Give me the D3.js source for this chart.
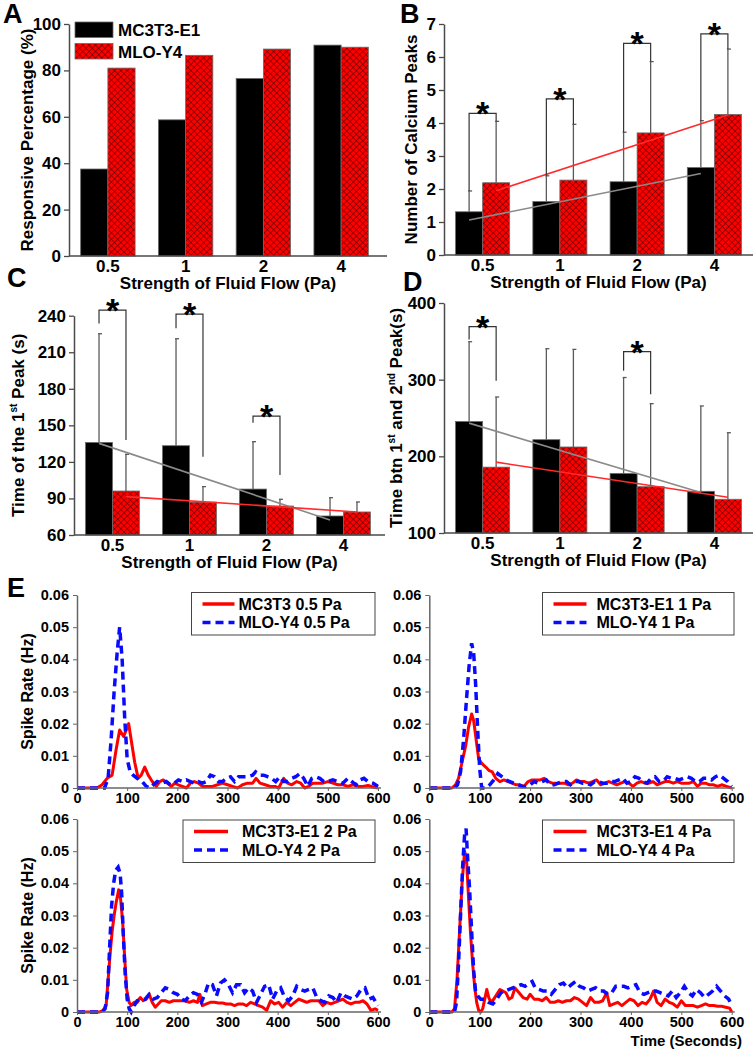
<!DOCTYPE html>
<html><head><meta charset="utf-8">
<script src="https://cdn.jsdelivr.net/npm/d3@7"></script>
<style>
body{margin:0;background:#fff;}
text{font-family:"Liberation Sans",Arial,sans-serif;font-weight:bold;fill:#000;}
</style></head>
<body>
<script>
// ---------- DATA ----------
const flows = ["0.5","1","2","4"];
const cellLines = ["MC3T3-E1","MLO-Y4"];

// Panel A: responsive percentage (%)
const respMC3T3 = [37.5, 58.7, 76.5, 90.9];
const respMLO   = [81.0, 86.5, 89.2, 90.0];
const ticksA = [0,20,40,60,80,100];

// Panel B: number of calcium peaks
const peaksMC3T3 = [1.31, 1.62, 2.22, 2.65];
const peaksMLO   = [2.19, 2.27, 3.70, 4.26];
const peaksErrTopMC3T3 = [1.94, 2.40, 3.72, 4.07];
const peaksErrTopMLO   = [4.05, 3.96, 5.86, 6.24];
const peaksTrendMC3T3 = [1.06, 2.47];
const peaksTrendMLO   = [1.95, 4.24];
const peaksSig = [ {g:0, top:4.29, l:1.94, r:4.05}, {g:1, top:4.73, l:2.40, r:3.96},
                   {g:2, top:6.41, l:3.72, r:5.86}, {g:3, top:6.70, l:4.07, r:6.24} ];
const ticksB = [0,1,2,3,4,5,6,7];

// Panel C: time of the 1st peak (s)
const firstMC3T3 = [136.0, 133.3, 97.7, 75.6];
const firstMLO   = [96.1, 87.0, 83.8, 78.9];
const firstErrTopMC3T3 = [225.2, 221.1, 136.6, 90.6];
const firstErrTopMLO   = [126.2, 99.7, 89.3, 87.1];
const firstTrendMC3T3 = [135.2, 72.3];
const firstTrendMLO   = [91.5, 78.9];
const firstSig = [ {g:0, top:244.6, l:233.7, r:138.0}, {g:1, top:241.3, l:229.6, r:124.3},
                   {g:2, top:157.6, l:152.2, r:109.2} ];
const ticksC = [60,90,120,150,180,210,240];

// Panel D: time between 1st and 2nd peak (s)
const gapMC3T3 = [245.4, 221.7, 177.7, 154.4];
const gapMLO   = [185.9, 212.2, 160.4, 144.0];
const gapErrTopMC3T3 = [349.5, 340.4, 302.8, 265.7];
const gapErrTopMLO   = [277.4, 339.5, 268.7, 230.8];
const gapTrendMC3T3 = [243.3, 152.7];
const gapTrendMLO   = [192.4, 146.6];
const gapSig = [ {g:0, top:369.3, l:352.5, r:298.5}, {g:2, top:336.5, l:311.5, r:281.0} ];
const ticksD = [100,200,300,400];

// Panel E: spike rate (Hz) vs time (s)
const timeTicks = [0,100,200,300,400,500,600];
const rateTicks = [0,0.01,0.02,0.03,0.04,0.05,0.06];
const legendE = [["MC3T3 0.5 Pa","MLO-Y4 0.5 Pa"],["MC3T3-E1 1 Pa","MLO-Y4 1 Pa"],
                 ["MC3T3-E1 2 Pa","MLO-Y4 2 Pa"],["MC3T3-E1 4 Pa","MLO-Y4 4 Pa"]];
const spikeMC3T3_05 = [[0,0],[40,0],[50,0.001],[60,0.003],[70,0.004],[78,0.012],[85,0.018],[93,0.016],[103,0.020],[110,0.013],[115,0.008],[122,0.003],[128,0.004],[135,0.0065],[142,0.004],[150,0.002],[158,0.0005],[165,0.002],[172,0.0025],[180,0.0015],[188,0.0005],[195,0.0015],[202,0.001],[210,0.0005],[218,0],[226,0.0015],[234,0.002],[242,0.0015],[250,0.0005],[260,0.0005],[270,0.0005],[280,0.001],[290,0.0015],[300,0.001],[310,0.0005],[320,0],[330,0.001],[340,0.0015],[350,0.0015],[357,0.003],[365,0.0015],[375,0.001],[385,0.0005],[395,0.0005],[402,0],[412,0.003],[420,0.0015],[428,0.001],[438,0.002],[446,0.0015],[454,0],[462,0.0005],[470,0.0015],[480,0.0015],[490,0.0015],[500,0.002],[510,0.0015],[520,0.001],[530,0.001],[540,0.0005],[550,0.001],[560,0.0005],[570,0.0005],[580,0.0008],[590,0.0003],[600,0]];
const spikeMLO_05 = [[0,0],[55,0],[62,0.003],[68,0.015],[74,0.03],[80,0.042],[85,0.05],[90,0.04],[95,0.022],[100,0.009],[106,0.005],[112,0.004],[120,0.003],[130,0.002],[138,0.0005],[145,0],[152,0.001],[160,0.002],[170,0.0015],[178,0.002],[186,0.001],[194,0.0015],[202,0.0025],[210,0.002],[218,0.0025],[226,0.002],[234,0.0015],[242,0.002],[250,0.0015],[258,0.002],[266,0.004],[274,0.0035],[282,0.002],[290,0.002],[298,0.003],[306,0.0035],[314,0.002],[322,0.0035],[330,0.0035],[340,0.0035],[350,0.004],[356,0.005],[364,0.004],[372,0.004],[380,0.0035],[388,0.003],[396,0.002],[404,0.0035],[412,0.002],[420,0.002],[428,0.003],[436,0.0035],[444,0.0045],[452,0.003],[460,0.0005],[468,0.003],[476,0.0035],[484,0.003],[492,0.002],[500,0.002],[510,0.0025],[520,0.002],[530,0.0015],[540,0.003],[548,0.002],[556,0.001],[564,0.0025],[572,0.003],[580,0.002],[590,0.0015],[600,0.0005]];
const spikeMC3T3_1 = [[0,0],[45,0],[52,0.001],[58,0.003],[65,0.008],[72,0.013],[78,0.019],[84,0.023],[88,0.021],[93,0.015],[98,0.009],[105,0.0075],[112,0.0065],[118,0.0055],[125,0.005],[132,0.003],[140,0.002],[148,0.0025],[156,0.002],[164,0.0015],[172,0.001],[180,0.001],[188,0.0005],[196,0.002],[204,0.0025],[212,0.0025],[220,0.0025],[228,0.003],[236,0.002],[244,0.0015],[252,0.0015],[260,0.0015],[268,0.0015],[276,0.001],[284,0.0015],[292,0.0025],[300,0.002],[308,0.002],[316,0.0015],[324,0.002],[332,0.0025],[340,0.001],[348,0.0015],[356,0.002],[364,0.0015],[372,0.001],[380,0.0015],[388,0.002],[396,0.0015],[404,0.0005],[412,0.0015],[420,0.002],[428,0.0015],[436,0.0015],[444,0.002],[452,0.001],[460,0.0015],[468,0.002],[476,0.002],[484,0.0015],[492,0.002],[500,0.0015],[508,0.0015],[516,0.0015],[524,0.002],[532,0.0005],[540,0.0015],[548,0.0015],[556,0.001],[564,0.001],[572,0.0005],[580,0.001],[590,0.0005],[600,0]];
const spikeMLO_1 = [[0,0],[50,0],[56,0.001],[62,0.005],[68,0.015],[74,0.028],[79,0.038],[84,0.045],[88,0.042],[92,0.032],[96,0.018],[100,0.006],[104,0],[112,0],[120,0.001],[128,0.0025],[136,0.0045],[144,0.0035],[152,0.0025],[160,0.002],[168,0.0015],[176,0.001],[184,0.0005],[192,0.0005],[200,0.001],[208,0.002],[216,0.0015],[224,0.002],[232,0.0025],[240,0.001],[248,0.001],[256,0.0015],[264,0.002],[272,0.002],[280,0.001],[288,0.002],[296,0.002],[304,0.0015],[312,0.0015],[320,0.001],[328,0.002],[336,0.002],[344,0.0015],[352,0.0015],[360,0.002],[368,0.002],[376,0.0025],[384,0.003],[392,0.0015],[400,0.002],[408,0.0035],[416,0.003],[424,0.002],[432,0.0015],[440,0.003],[448,0.0035],[456,0.002],[464,0.002],[472,0.0035],[480,0.003],[488,0.003],[496,0.0025],[504,0.003],[512,0.0035],[520,0.003],[528,0.002],[536,0.002],[544,0.003],[552,0.003],[560,0.0025],[568,0.0035],[576,0.004],[584,0.003],[592,0.002],[600,0.0005]];
const spikeMC3T3_2 = [[0,0],[45,0],[52,0.0005],[58,0.002],[62,0.01],[66,0.018],[70,0.025],[74,0.03],[78,0.034],[83,0.038],[87,0.035],[91,0.028],[95,0.017],[99,0.007],[104,0.003],[108,0.002],[114,0.003],[120,0.003],[126,0.0045],[132,0.0035],[138,0.004],[144,0.0055],[150,0.003],[156,0.0015],[162,0.0025],[168,0.0035],[176,0.0035],[184,0.003],[192,0.0035],[200,0.0035],[208,0.0035],[216,0.0035],[224,0.003],[232,0.0035],[240,0.003],[245,0.0055],[250,0.002],[258,0.0025],[266,0.003],[274,0.003],[282,0.0028],[290,0.0028],[298,0.0025],[306,0.0025],[314,0.002],[322,0.0025],[330,0.0025],[338,0.002],[346,0.003],[354,0.0025],[362,0.002],[370,0.0015],[378,0.0005],[386,0.0035],[394,0.0025],[402,0.003],[410,0.0015],[418,0.003],[426,0.002],[434,0.003],[442,0.004],[450,0.0035],[458,0.003],[466,0.0035],[474,0.0035],[482,0.0035],[490,0.002],[498,0.003],[506,0.0025],[514,0.003],[522,0.0035],[530,0.004],[538,0.003],[546,0.0025],[554,0.003],[562,0.003],[570,0.0035],[578,0.0025],[586,0.0005],[594,0.001],[600,0.0005]];
const spikeMLO_2 = [[0,0],[50,0],[56,0.001],[61,0.006],[65,0.02],[69,0.033],[73,0.04],[77,0.044],[82,0.045],[86,0.043],[89,0.037],[92,0.025],[96,0.012],[100,0.004],[104,0.001],[108,0],[114,0.002],[120,0.0035],[128,0.004],[136,0.004],[144,0.0055],[152,0.004],[160,0.0045],[168,0.006],[176,0.0075],[184,0.007],[192,0.006],[200,0.0055],[208,0.004],[216,0.0035],[224,0.005],[232,0.006],[240,0.0055],[248,0.003],[256,0.006],[262,0.009],[270,0.0085],[278,0.005],[286,0.009],[294,0.01],[302,0.0085],[310,0.006],[318,0.0085],[326,0.0085],[334,0.006],[342,0.0075],[350,0.0065],[358,0.003],[366,0.0055],[374,0.008],[382,0.0085],[390,0.004],[398,0.0065],[406,0.0075],[414,0.0045],[422,0.0035],[430,0.005],[438,0.008],[446,0.007],[454,0.0065],[462,0.007],[470,0.0075],[478,0.0045],[486,0.0035],[494,0.003],[502,0.005],[510,0.0045],[518,0.003],[526,0.006],[534,0.005],[542,0.0045],[550,0.004],[558,0.005],[566,0.007],[574,0.0075],[582,0.004],[590,0.0045],[600,0.002]];
const spikeMC3T3_4 = [[0,0],[45,0],[50,0.001],[55,0.01],[60,0.025],[65,0.04],[70,0.05],[74,0.047],[78,0.035],[82,0.024],[86,0.015],[90,0.008],[94,0.003],[98,0.0005],[102,0],[106,0.001],[110,0.004],[114,0.007],[118,0.0045],[122,0.003],[128,0.004],[134,0.0055],[140,0.007],[146,0.0065],[152,0.006],[158,0.004],[164,0.0045],[170,0.0075],[178,0.006],[186,0.0045],[194,0.004],[200,0.0055],[208,0.004],[216,0.004],[224,0.0035],[232,0.0045],[240,0.003],[248,0.003],[256,0.0035],[264,0.003],[272,0.0035],[280,0.0035],[288,0.0045],[296,0.004],[304,0.003],[312,0.002],[320,0.0045],[328,0.003],[336,0.003],[344,0.0035],[352,0.006],[358,0.002],[366,0.0025],[374,0.003],[382,0.002],[390,0.003],[398,0.004],[406,0.0035],[414,0.002],[422,0.003],[430,0.0025],[438,0.004],[445,0.0065],[452,0.003],[460,0.002],[468,0.004],[476,0.003],[484,0.0025],[492,0.0015],[500,0.0035],[508,0.002],[516,0.002],[524,0.002],[532,0.0015],[540,0.002],[548,0.0025],[556,0.002],[564,0.002],[572,0.0018],[580,0.0018],[588,0.0015],[596,0.0012],[600,0]];
const spikeMLO_4 = [[0,0],[50,0],[54,0.003],[58,0.015],[62,0.03],[66,0.045],[70,0.055],[73,0.057],[76,0.048],[80,0.038],[84,0.025],[88,0.013],[92,0.006],[96,0.005],[102,0.004],[110,0.004],[118,0.003],[126,0.0025],[134,0.004],[142,0.006],[150,0.0065],[158,0.007],[166,0.0075],[174,0.008],[182,0.0085],[190,0.008],[198,0.009],[204,0.0095],[210,0.0075],[218,0.007],[226,0.0065],[234,0.0065],[242,0.0055],[250,0.007],[258,0.0085],[266,0.009],[274,0.0075],[282,0.0085],[290,0.0095],[298,0.008],[306,0.0075],[314,0.0065],[322,0.007],[330,0.0075],[338,0.0065],[346,0.0065],[354,0.0055],[362,0.006],[370,0.008],[378,0.008],[386,0.008],[394,0.0075],[402,0.008],[410,0.0085],[418,0.006],[426,0.0055],[434,0.006],[442,0.0065],[450,0.0065],[458,0.006],[466,0.0055],[474,0.005],[482,0.0065],[490,0.0045],[498,0.006],[506,0.008],[514,0.006],[522,0.005],[530,0.007],[538,0.006],[546,0.0045],[554,0.0055],[562,0.0065],[570,0.008],[578,0.0065],[586,0.005],[594,0.004],[600,0.002]];

// ---------- DRAWING ----------
const W = 755, H = 1050;
const svg = d3.select("body").append("svg").attr("width", W).attr("height", H);
const defs = svg.append("defs");
const pat = defs.append("pattern").attr("id","hatch").attr("patternUnits","userSpaceOnUse")
  .attr("width",4.5).attr("height",4.5).attr("patternTransform","rotate(45)");
pat.append("rect").attr("width",4.5).attr("height",4.5).attr("fill","#ff0000");
pat.append("path").attr("d","M0,0H4.5M0,0V4.5").attr("stroke","#3a0000").attr("stroke-width",1);

const AX = "#4a4a4a";

function panelLabel(t, x, y){
  svg.append("text").attr("x",x).attr("y",y).style("font-size","27px").text(t);
}

function barPanel(o){
  const g = svg.append("g");
  const x = d3.scaleBand().domain(flows).range([o.x0, o.x1]).paddingInner(0.3).paddingOuter(0.15);
  const y = d3.scaleLinear().domain(o.domain).range([o.yb, o.yt]);
  const sub = d3.scaleBand().domain([0,1]).range([0, x.bandwidth()]);
  const cx = (i, s) => x(flows[i]) + sub(s) + sub.bandwidth()/2;

  o.values.forEach((vals, s) => {
    g.append("g").selectAll("rect").data(vals).join("rect")
      .attr("x", (d,i) => x(flows[i]) + sub(s))
      .attr("width", sub.bandwidth())
      .attr("y", d => y(d))
      .attr("height", d => y(o.domain[0]) - y(d))
      .attr("fill", s === 0 ? "#000" : "url(#hatch)")
      .attr("stroke", "#6a6a6a").attr("stroke-width", 0.8);
  });

  if (o.errTop){
    o.errTop.forEach((tops, s) => {
      tops.forEach((t, i) => {
        const xx = cx(i, s);
        g.append("line").attr("x1",xx).attr("x2",xx).attr("y1",y(o.values[s][i])).attr("y2",y(t))
          .attr("stroke","#5a5a5a").attr("stroke-width",1.3);
        g.append("line").attr("x1",xx-1).attr("x2",xx+3).attr("y1",y(t)).attr("y2",y(t))
          .attr("stroke","#5a5a5a").attr("stroke-width",1.3);
      });
    });
  }

  if (o.trend){
    const colors = ["#8a8a8a", "#ff2a2a"];
    o.trend.forEach((tr, s) => {
      g.append("line").attr("x1", cx(0,s)).attr("x2", cx(3,s))
        .attr("y1", y(tr[0])).attr("y2", y(tr[1]))
        .attr("stroke", colors[s]).attr("stroke-width", 1.6);
    });
  }

  if (o.sig){
    o.sig.forEach(b => {
      const xl = cx(b.g,0), xr = cx(b.g,1);
      g.append("path").attr("d", `M${xl},${y(b.l)}V${y(b.top)}H${xr}V${y(b.r)}`)
        .attr("fill","none").attr("stroke","#333").attr("stroke-width",1.2);
      g.append("text").attr("x",(xl+xr)/2).attr("y",y(b.top)+12).attr("text-anchor","middle")
        .style("font-size","34px").text("*");
    });
  }

  // y axis
  const ya = g.append("g").attr("transform",`translate(${o.x0},0)`)
    .call(d3.axisLeft(y).tickValues(o.ticks).tickSize(5).tickSizeOuter(0).tickPadding(3)
      .tickFormat(d3.format("d")));
  ya.select(".domain").attr("stroke",AX).attr("stroke-width",1.5);
  ya.selectAll(".tick line").attr("stroke",AX).attr("stroke-width",1.3);
  ya.selectAll(".tick text").style("font-size","17px").style("font-weight","bold")
    .style("font-family","'Liberation Sans',Arial,sans-serif").attr("fill","#000");

  // x axis
  const yb = y(o.domain[0]);
  g.append("line").attr("x1",o.x0).attr("x2",o.axisEnd).attr("y1",yb).attr("y2",yb)
    .attr("stroke",AX).attr("stroke-width",1.5);
  g.append("g").selectAll("text").data(flows).join("text")
    .attr("x", d => x(d) + x.bandwidth()/2).attr("y", yb + 16)
    .attr("text-anchor","middle").style("font-size","17px").text(d => d);
  g.append("text").attr("x",(o.x0+o.axisEnd)/2).attr("y", yb + 33)
    .attr("text-anchor","middle").style("font-size","17px").text("Strength of Fluid Flow (Pa)");

  // y title
  const yt = g.append("text").attr("transform",`translate(${o.ylx},${(o.yb+o.yt)/2}) rotate(-90)`)
    .attr("text-anchor","middle").style("font-size","17px");
  o.ytitle.forEach(p => {
    const ts = yt.append("tspan").text(p[0]);
    if (p[1] === "sup") ts.style("font-size","10px").attr("dy",-7);
    else if (p[1] === "after") ts.attr("dy",7);
  });
  return {x, y, g};
}

// Panel A
barPanel({x0:69, x1:380, axisEnd:387, yb:256, yt:24, domain:[0,100], ticks:ticksA,
  values:[respMC3T3, respMLO], ylx:33, ytitle:[["Responsive Percentage (%)"]]});
// legend A
const legA = svg.append("g");
cellLines.forEach((n,i) => {
  legA.append("rect").attr("x",75).attr("y",22 + i*21.5).attr("width",38).attr("height",15.5)
    .attr("fill", i===0 ? "#000" : "url(#hatch)").attr("stroke","#6a6a6a").attr("stroke-width",0.8);
  legA.append("text").attr("x",118).attr("y",36 + i*21.5).style("font-size","17px").text(n);
});

// Panel B
barPanel({x0:444, x1:753, axisEnd:753, yb:255, yt:24, domain:[0,7], ticks:ticksB,
  values:[peaksMC3T3, peaksMLO], errTop:[peaksErrTopMC3T3, peaksErrTopMLO],
  trend:[peaksTrendMC3T3, peaksTrendMLO], sig:peaksSig, ylx:417,
  ytitle:[["Number of Calcium Peaks"]]});

// Panel C
barPanel({x0:74, x1:382, axisEnd:385, yb:535, yt:315.7, domain:[60,240], ticks:ticksC,
  values:[firstMC3T3, firstMLO], errTop:[firstErrTopMC3T3, firstErrTopMLO],
  trend:[firstTrendMC3T3, firstTrendMLO], sig:firstSig, ylx:24,
  ytitle:[["Time of the 1"],["st","sup"],[" Peak (s)","after"]]});

// Panel D
barPanel({x0:444, x1:753, axisEnd:753, yb:533, yt:303, domain:[100,400], ticks:ticksD,
  values:[gapMC3T3, gapMLO], errTop:[gapErrTopMC3T3, gapErrTopMLO],
  trend:[gapTrendMC3T3, gapTrendMLO], sig:gapSig, ylx:402,
  ytitle:[["Time btn 1"],["st","sup"],[" and 2","after"],["nd","sup"],[" Peak(s)","after"]]});

panelLabel("A", 3, 23);
panelLabel("B", 400, 23);
panelLabel("C", 7, 287);
panelLabel("D", 403, 291);
panelLabel("E", 7, 597);

// Panel E
function spikePanel(o){
  const g = svg.append("g");
  const x = d3.scaleLinear().domain([0,600]).range([o.x0, o.x1]);
  const y = d3.scaleLinear().domain([0,0.06]).range([o.yb, o.yt]);
  const line = d3.line().x(d => x(d[0])).y(d => y(d[1]));
  g.append("path").datum(o.red).attr("d",line).attr("fill","none")
    .attr("stroke","#ff0000").attr("stroke-width",3).attr("stroke-linejoin","round");
  g.append("path").datum(o.blue).attr("d",line).attr("fill","none")
    .attr("stroke","#0a0aff").attr("stroke-width",3.5).attr("stroke-dasharray","8,5");

  const ya = g.append("g").attr("transform",`translate(${o.x0},0)`)
    .call(d3.axisLeft(y).tickValues(rateTicks).tickSize(4).tickSizeOuter(0).tickPadding(4)
      .tickFormat(d => d === 0 ? "0" : d3.format(".2f")(d)));
  const xa = g.append("g").attr("transform",`translate(0,${o.yb})`)
    .call(d3.axisBottom(x).tickValues(timeTicks).tickSize(3).tickSizeOuter(0).tickPadding(2));
  [ya, xa].forEach(a => {
    a.select(".domain").attr("stroke","#666").attr("stroke-width",1.5);
    a.selectAll(".tick line").attr("stroke","#666");
    a.selectAll(".tick text").style("font-size","14.5px").style("font-weight","bold")
      .style("font-family","'Liberation Sans',Arial,sans-serif").attr("fill","#000");
  });
  xa.select(".domain").attr("d",`M${o.x0},0H${o.x1+3}`);

  if (o.ytitle){
    g.append("text").attr("transform",`translate(33,${(o.yb+o.yt)/2}) rotate(-90)`)
      .attr("text-anchor","middle").style("font-size","16px").text("Spike Rate (Hz)");
  }
  if (o.xtitle){
    g.append("text").attr("x",742).attr("y",o.yb+34).attr("text-anchor","end")
      .style("font-size","15px").text("Time (Seconds)");
  }
  // legend
  const L = o.leg;
  g.append("rect").attr("x",L.x).attr("y",L.y).attr("width",L.w).attr("height",42.5)
    .attr("fill","#fff").attr("stroke","#444").attr("stroke-width",1);
  g.append("line").attr("x1",L.x+L.lx0).attr("x2",L.x+L.lx1).attr("y1",L.y+11.5).attr("y2",L.y+11.5)
    .attr("stroke","#ff0000").attr("stroke-width",3.5);
  g.append("line").attr("x1",L.x+L.lx0).attr("x2",L.x+L.lx1).attr("y1",L.y+30).attr("y2",L.y+30)
    .attr("stroke","#0a0aff").attr("stroke-width",3.5).attr("stroke-dasharray","8,5");
  o.labels.forEach((t,i) => {
    g.append("text").attr("x",L.x+L.tx).attr("y",L.y+17 + i*18.5).style("font-size","16px").text(t);
  });
}

spikePanel({x0:77, x1:378, yb:788, yt:595, red:spikeMC3T3_05, blue:spikeMLO_05, ytitle:true,
  labels:legendE[0], leg:{x:191.5, y:592.5, w:183.5, lx0:11, lx1:43, tx:47}});
spikePanel({x0:429.3, x1:731.7, yb:788, yt:595, red:spikeMC3T3_1, blue:spikeMLO_1,
  labels:legendE[1], leg:{x:542.5, y:592.5, w:191.5, lx0:11, lx1:44, tx:54}});
spikePanel({x0:77, x1:378, yb:1012, yt:819, red:spikeMC3T3_2, blue:spikeMLO_2, ytitle:true,
  labels:legendE[2], leg:{x:183, y:820, w:192, lx0:11, lx1:45, tx:59}});
spikePanel({x0:429.3, x1:731.7, yb:1012, yt:819, red:spikeMC3T3_4, blue:spikeMLO_4, xtitle:true,
  labels:legendE[3], leg:{x:542.5, y:820, w:191.5, lx0:11, lx1:44, tx:54}});
</script>
</body></html>
